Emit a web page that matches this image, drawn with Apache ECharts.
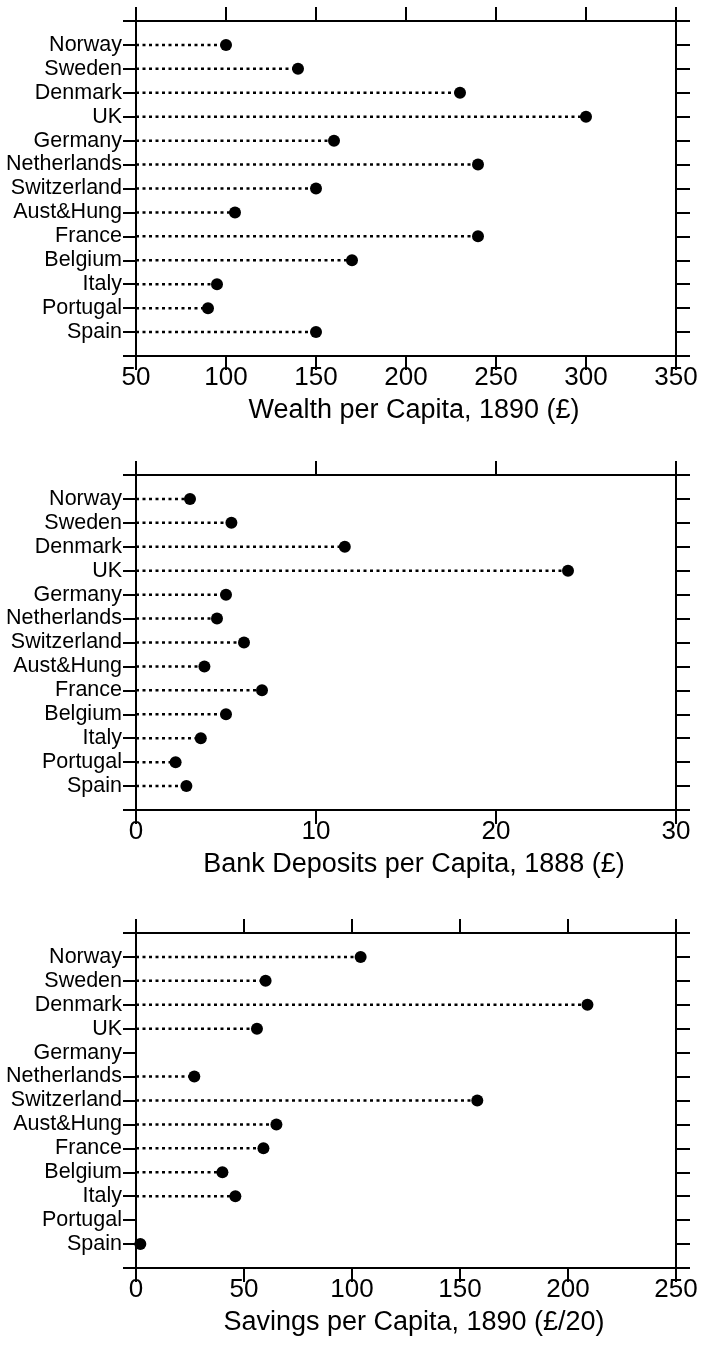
<!DOCTYPE html>
<html>
<head>
<meta charset="utf-8">
<script src="https://cdn.jsdelivr.net/npm/echarts@6/dist/echarts.min.js"></script>
<style>
html,body{margin:0;padding:0;background:#fff;}
#chart{width:704px;height:1362px;}
</style>
</head>
<body>
<div id="chart"></div>
<script>
// ---- data ----
const countries = ['Norway','Sweden','Denmark','UK','Germany','Netherlands','Switzerland','Aust&Hung','France','Belgium','Italy','Portugal','Spain'];
const wealth1890   = [100, 140, 230, 300, 160, 240, 150, 105, 240, 170, 95, 90, 150];
const deposits1888 = [3.0, 5.3, 11.6, 24.0, 5.0, 4.5, 6.0, 3.8, 7.0, 5.0, 3.6, 2.2, 2.8];
const savings1890  = [104, 60, 209, 56, null, 27, 158, 65, 59, 40, 46, null, 2];
const wealthTicks   = [50, 350, 50];   // min, max, interval
const depositTicks  = [0, 30, 10];
const savingsTicks  = [0, 250, 50];
const titles = ['Wealth per Capita, 1890 (\u00a3)', 'Bank Deposits per Capita, 1888 (\u00a3)', 'Savings per Capita, 1890 (\u00a3/20)'];

// ---- chart ----
const FONT = "'Liberation Sans', Arial, Helvetica, sans-serif";
const panels = [
  {vals: wealth1890, ticks: wealthTicks, top: 21},
  {vals: deposits1888, ticks: depositTicks, top: 475},
  {vals: savings1890, ticks: savingsTicks, top: 933}
];
const H = 335;
const grid = [], xAxis = [], yAxis = [], series = [];
const lineStyle = {color: '#000', width: 2};
panels.forEach((p, k) => {
  grid.push({left: 136, right: 28, top: p.top, height: H, containLabel: false});
  const [mn, mx, iv] = p.ticks;
  xAxis.push({
    type: 'value', gridIndex: k, position: 'bottom', min: mn, max: mx, interval: iv,
    axisLine: {show: true, onZero: false, lineStyle},
    axisTick: {show: true, inside: false, length: 14, lineStyle},
    axisLabel: {show: true, margin: 9, color: '#000', fontSize: 26, fontFamily: FONT},
    splitLine: {show: false},
    name: titles[k], nameLocation: 'middle', nameGap: 41,
    nameTextStyle: {color: '#000', fontSize: 27, fontFamily: FONT, padding: [0, 0, 0, 16]}
  });
  xAxis.push({
    type: 'value', gridIndex: k, position: 'top', min: mn, max: mx, interval: iv,
    axisLine: {show: true, onZero: false, lineStyle},
    axisTick: {show: true, inside: false, length: 14, lineStyle},
    axisLabel: {show: false}, splitLine: {show: false}
  });
  yAxis.push({
    type: 'value', gridIndex: k, position: 'left', min: 0, max: 14, interval: 1, inverse: true,
    axisLine: {show: true, onZero: false, lineStyle},
    axisTick: {show: true, inside: false, length: 13, lineStyle},
    axisLabel: {show: true, margin: 14, color: '#000', fontSize: 21.5, fontFamily: FONT,
      formatter: v => countries[v - 1] || ''},
    splitLine: {show: false}
  });
  yAxis.push({
    type: 'value', gridIndex: k, position: 'right', min: 0, max: 14, interval: 1, inverse: true,
    axisLine: {show: true, onZero: false, lineStyle},
    axisTick: {show: true, inside: false, length: 14, lineStyle},
    axisLabel: {show: false}, splitLine: {show: false}
  });
  const pts = [];
  p.vals.forEach((v, i) => { if (v !== null) pts.push([v, i + 1]); });
  series.push({
    type: 'custom', xAxisIndex: 2 * k, yAxisIndex: 2 * k, data: pts, z: 2,
    renderItem: (params, api) => {
      const s = api.coord([mn, api.value(1)]);
      const e = api.coord([api.value(0), api.value(1)]);
      return {type: 'line', shape: {x1: s[0], y1: s[1], x2: e[0], y2: e[1]},
        style: {stroke: '#000', lineWidth: 2.5, lineDash: [3, 3.5]}};
    }
  });
  series.push({
    type: 'scatter', xAxisIndex: 2 * k, yAxisIndex: 2 * k, data: pts, z: 3,
    symbol: 'circle', symbolSize: 12, itemStyle: {color: '#000', opacity: 1}
  });
});

const chart = echarts.init(document.getElementById('chart'), null, {renderer: 'canvas'});
chart.setOption({animation: false, backgroundColor: '#fff', grid, xAxis, yAxis, series});
</script>
</body>
</html>
